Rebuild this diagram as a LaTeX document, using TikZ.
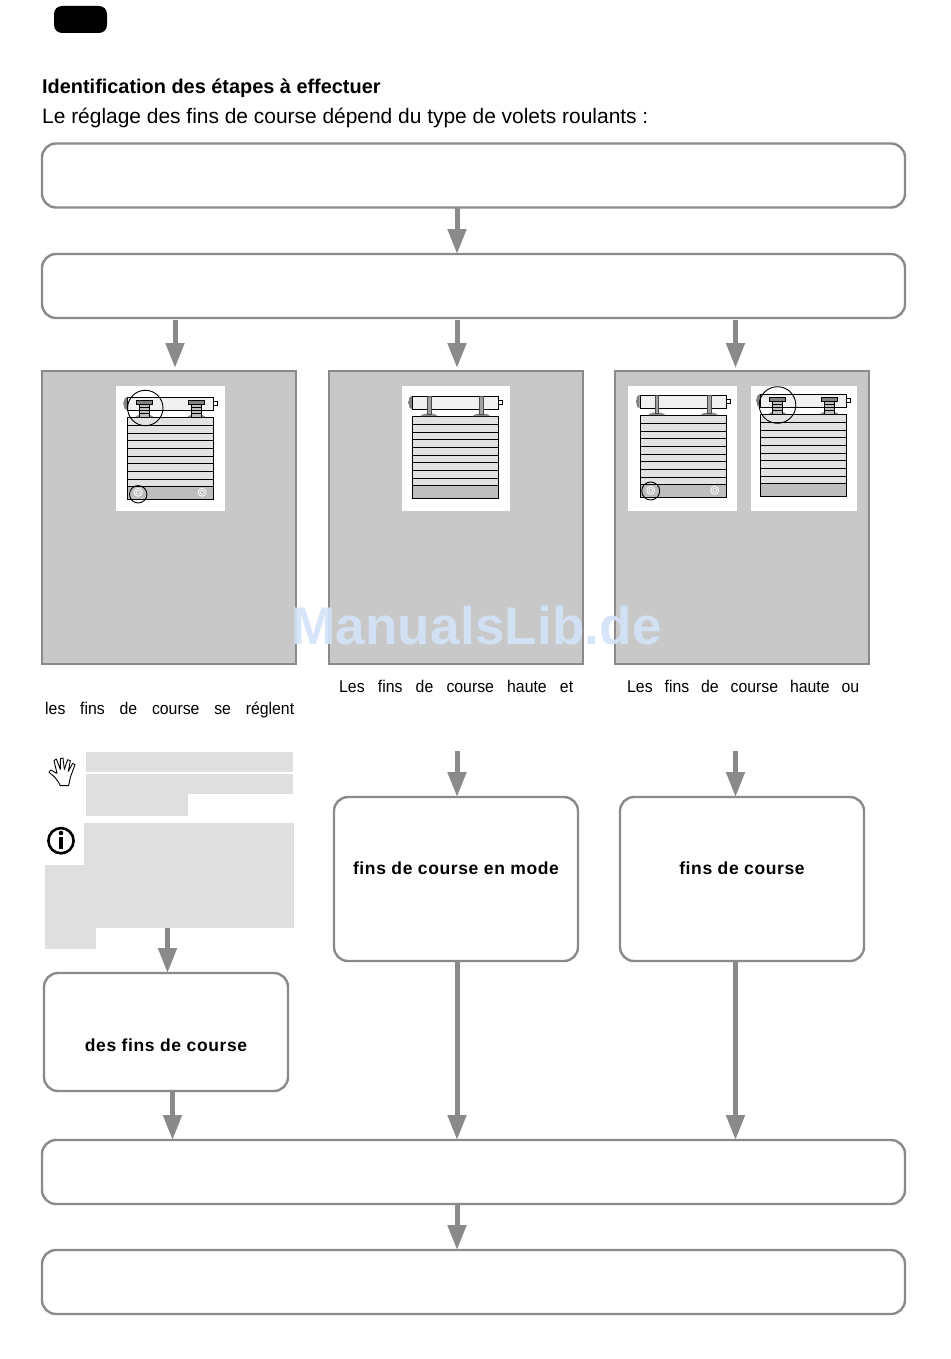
\documentclass[tikz,border=0pt]{standalone}
\usepackage{fontspec}
\setmainfont{Liberation Sans}
\usetikzlibrary{arrows.meta, calc}

\definecolor{linegray}{HTML}{8A8A8A}
\definecolor{panelgray}{HTML}{C8C8C8}
\definecolor{notegray}{HTML}{DFDFDF}
\definecolor{slatgray}{HTML}{E2E2E2}
\definecolor{bargray}{HTML}{BEBEBE}
\definecolor{tubegray}{HTML}{F0F0F0}
\definecolor{markblue}{HTML}{D3E3F8}

\tikzset{
    stepbox/.style={draw=linegray, line width=2.4pt, rounded corners=14pt, fill=white, anchor=north west, inner sep=0pt, outer sep=0pt},
    panelbox/.style={draw=linegray, line width=2pt, fill=panelgray, anchor=north west, inner sep=0pt, outer sep=0pt},
    whitebox/.style={fill=white, anchor=north west, inner sep=0pt, outer sep=0pt},
    notebox/.style={fill=notegray, anchor=north west, inner sep=0pt, outer sep=0pt},
    flow/.style={draw=linegray, line width=5pt, -{Triangle[length=25pt,width=18pt]}},
    bodytext/.style={anchor=base west, inner sep=0pt, font=\fontsize{17}{19}\selectfont\addfontfeatures{FakeStretch=0.93}},
    steptext/.style={anchor=base, inner sep=0pt, font=\fontsize{17.5}{21}\selectfont\bfseries\addfontfeatures{LetterSpace=3.5}},
    thin line/.style={draw=black, line width=0.9pt},
    pics/shutter/.style={code={
        \draw[thin line, fill=slatgray] (0,0) rectangle (86,82);
        \draw[thin line, fill=bargray] (0,69.5) rectangle (86,82);
        \foreach \y in {8,16,23,31,39,46,54,62}
            \draw[thin line] (0,\y) -- (86,\y);
        \draw[thin line, fill=tubegray] (0,-20) rectangle (86,-7);
        \draw[thin line, fill=white] (86,-15.5) rectangle (90,-11.5);
        \draw[fill=gray, draw=gray, line width=0.6pt, dashed] (-0.5,-20) .. controls (-5,-19) and (-5,-8) .. (-0.5,-7);
    }},
    pics/postpair/.style={code={
        \foreach \x in {16.7,69.2} {
            \fill[linegray] (\x-8.5,0) .. controls (\x-6,-3.5) and (\x+6,-3.5) .. (\x+8.5,0) -- cycle;
            \draw[draw=black!70, line width=0.6pt, fill=bargray!85!black] (\x-1.8,-20) rectangle (\x+1.8,-2);
        }
    }},
    pics/screwpair/.style={code={
        \foreach \x in {17,69} {
            \fill[linegray] (\x-9,0) .. controls (\x-6,-3.5) and (\x+6,-3.5) .. (\x+9,0) -- cycle;
            \draw[thin line, fill=bargray] (\x-5,-12.3) rectangle (\x+5,0);
            \foreach \y in {-9.5,-6.5,-3.5}
                \draw[black, line width=0.6pt] (\x-5,\y) -- (\x+5,\y);
            \draw[thin line, fill=gray] (\x-8,-16.7) rectangle (\x+8,-12.3);
        }
    }},
    pics/ringpair/.style={code={
        \foreach \x in {10.7,74.7} {
            \draw[white, line width=0.8pt] (\x,75.3) circle (4);
            \draw[white, line width=0.6pt] (\x,75.3) circle (2);
        }
    }},
}

\begin{document}
\begin{tikzpicture}[x=1pt, y=-1pt]
    \useasboundingbox (0,0) rectangle (950,1359);

    \node[fill=black, rounded corners=8pt, anchor=north west, minimum width=53pt, minimum height=27pt, inner sep=0pt, outer sep=0pt] (tabmark) at (54,6) {};

    % headings
    \node[anchor=base west, inner sep=0pt, font=\fontsize{19.9}{24}\selectfont\bfseries] (headtitle) at (42,93.5) {Identification des étapes à effectuer};
    \node[anchor=base west, inner sep=0pt, font=\fontsize{20.93}{24}\selectfont] (headline) at (42,124) {Le réglage des fins de course dépend du type de volets roulants :};

    % wide boxes
    \node[stepbox, minimum width=863pt, minimum height=64pt] (boxone) at (42,143.5) {};
    \node[stepbox, minimum width=863pt, minimum height=64pt] (boxtwo) at (42,254) {};
    \node[stepbox, minimum width=863pt, minimum height=64pt] (boxsix) at (42,1140) {};
    \node[stepbox, minimum width=863pt, minimum height=64pt] (boxseven) at (42,1250) {};

    % grey panels
    \node[panelbox, minimum width=254pt, minimum height=293pt] (panela) at (42,371) {};
    \node[panelbox, minimum width=254pt, minimum height=293pt] (panelb) at (329,371) {};
    \node[panelbox, minimum width=254pt, minimum height=293pt] (panelc) at (615,371) {};

    % shutters
    \node[whitebox, minimum width=109pt, minimum height=125pt] (framea) at (116,386) {};
    \node[whitebox, minimum width=108pt, minimum height=125pt] (frameb) at (401.5,386) {};
    \node[whitebox, minimum width=109pt, minimum height=125pt] (framec) at (628,386) {};
    \node[whitebox, minimum width=106pt, minimum height=125pt] (framed) at (751,386) {};

    \pic at (127.5,417) {shutter};
    \pic at (127.5,417) {screwpair};
    \pic at (127.5,417) {ringpair};
    \draw[thin line] (145.3,408) circle (17.7);
    \draw[thin line] (138.2,494.3) circle (8.7);

    \pic at (412.3,416) {shutter};
    \pic at (412.3,416) {postpair};

    \pic at (640,415) {shutter};
    \pic at (640,415) {postpair};
    \pic at (640,415) {ringpair};
    \draw[thin line] (650.7,491) circle (9);

    \pic at (760.3,414) {shutter};
    \pic at (760.3,414) {screwpair};
    \draw[thin line] (777.5,405) circle (18.3);

    % panel captions
    \node[bodytext] (captiona) at (45,714) {\makebox[249pt][s]{les fins de course se réglent}};
    \node[bodytext] (captionb) at (339,692) {\makebox[234pt][s]{Les fins de course haute et}};
    \node[bodytext] (captionc) at (627,692) {\makebox[232pt][s]{Les fins de course haute ou}};

    % note blocks
    \node[notebox, minimum width=207.3pt, minimum height=20pt] (noteone) at (86,752.3) {};
    \node[notebox, minimum width=207.3pt, minimum height=20pt] (notetwo) at (86,774.3) {};
    \node[notebox, minimum width=102pt, minimum height=22pt] (notethree) at (86,794) {};
    \node[notebox, minimum width=209.5pt, minimum height=43pt] (notefour) at (84,823) {};
    \node[notebox, minimum width=248.5pt, minimum height=63pt] (notefive) at (45,865) {};
    \node[notebox, minimum width=51pt, minimum height=21pt] (notesix) at (45,927.7) {};

    % hand
    \begin{scope}[shift={(35,740)}, scale=1/3]
        \draw[black, line width=0.9pt, fill=white, line join=round] (76,137) .. controls (70,122) and (62,118) .. (58,110) -- (42,97) -- (47,90) -- (66,100) -- (57,62) -- (64,57) -- (76,88) -- (76,56) -- (84,54) -- (88,88) -- (98,59) -- (106,62) -- (100,94) -- (113,70) -- (120,74) -- (106,112) -- (101,137) -- cycle;
    \end{scope}

    % info sign
    \draw[black, line width=2.6pt] (61,840.7) circle (12.6);
    \fill[black] (61,833) circle (2.3);
    \fill[black] (58.8,837.3) rectangle (63.2,849.3);

    % lower boxes
    \node[stepbox, minimum width=244pt, minimum height=118pt] (boxthree) at (44,973) {};
    \node[stepbox, minimum width=244pt, minimum height=164pt] (boxfour) at (334,797) {};
    \node[stepbox, minimum width=244pt, minimum height=164pt] (boxfive) at (620,797) {};

    \node[steptext] (labelthree) at (166,1051) {des fins de course};
    \node[steptext] (labelfour) at (456,874) {fins de course en mode};
    \node[steptext] (labelfive) at (742,874) {fins de course};

    % arrows
    \coordinate (colb) at (457,0);
    \coordinate (colc) at (735.5,0);
    \coordinate (cola) at (175,0);
    \coordinate (colnote) at (167.5,0);
    \coordinate (colthree) at (172.5,0);
    \coordinate (startb) at (457,751);
    \coordinate (startc) at (735.5,751);

    \draw[flow] (boxone.south -| colb) -- (boxtwo.north -| colb);
    \draw[flow, shorten >=3pt, shorten <=2pt] (boxtwo.south -| cola) -- (panela.north -| cola);
    \draw[flow, shorten >=3pt, shorten <=2pt] (boxtwo.south -| colb) -- (panelb.north -| colb);
    \draw[flow, shorten >=3pt, shorten <=2pt] (boxtwo.south -| colc) -- (panelc.north -| colc);
    \draw[flow] (startb) -- (boxfour.north -| colb);
    \draw[flow] (startc) -- (boxfive.north -| colc);
    \draw[flow] (notefive.south -| colnote) -- (boxthree.north -| colnote);
    \draw[flow] (boxthree.south -| colthree) -- (boxsix.north -| colthree);
    \draw[flow] (boxfour.south -| colb) -- (boxsix.north -| colb);
    \draw[flow] (boxfive.south -| colc) -- (boxsix.north -| colc);
    \draw[flow] (boxsix.south -| colb) -- (boxseven.north -| colb);

    % watermark
    \node[anchor=base west, inner sep=0pt, text=markblue, text opacity=0.92, font=\fontsize{53}{60}\selectfont\bfseries\addfontfeatures{LetterSpace=0.4}] (watermark) at (291,644) {ManualsLib.de};
\end{tikzpicture}
\end{document}
